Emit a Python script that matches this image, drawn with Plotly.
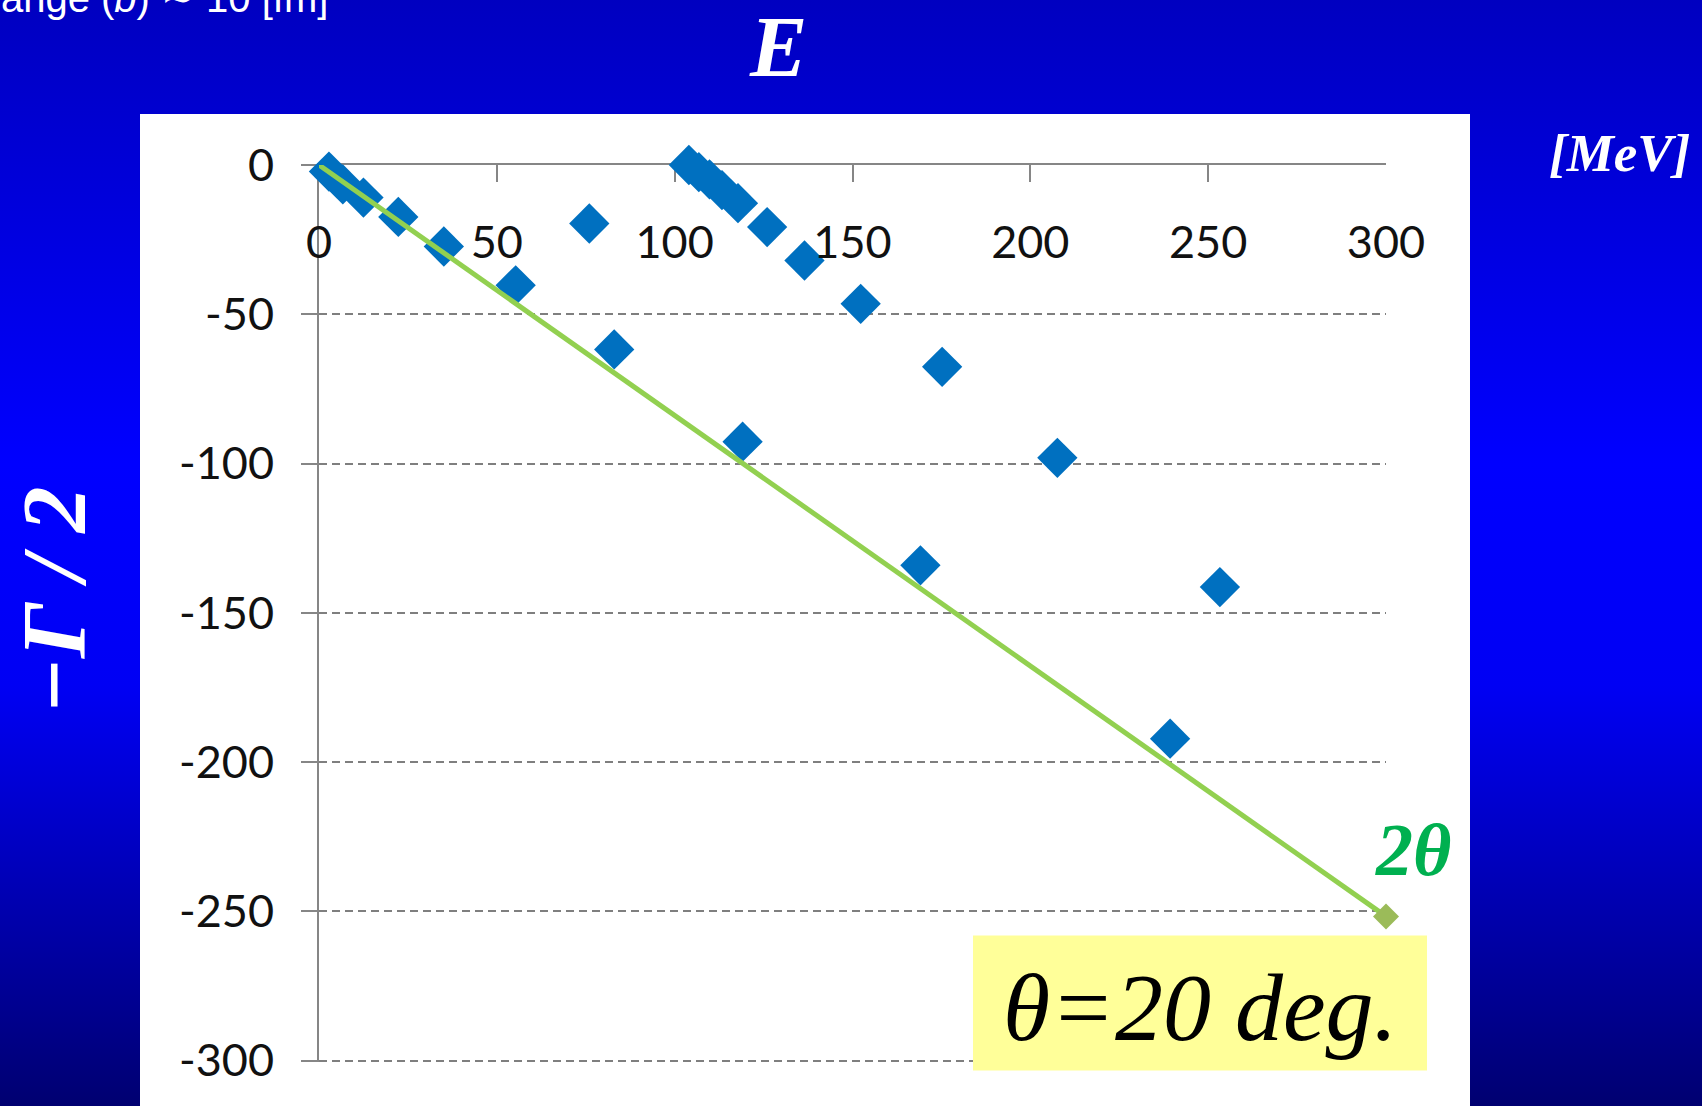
import base64
import math
import plotly.graph_objects as go

# Complex-scaled eigenvalues: E (real part) and -Gamma/2 (imag part), MeV
branch_a_E = [2.8, 6.7, 12.5, 22.3, 35.1, 55.3, 83.0, 119.1, 169.1, 239.3]
branch_a_G = [-2.2, -6.5, -10.9, -17.4, -27.3, -40.3, -61.8, -92.7, -134.1, -192.2]

branch_b_E = [76.0, 104.0, 106.8, 109.8, 113.3, 117.8, 126.0, 136.5, 152.3, 175.2, 207.6, 253.3]
branch_b_G = [-19.6, 0.0, -2.4, -4.8, -8.4, -12.8, -20.8, -32.0, -46.5, -67.6, -98.1, -141.4]

# Rotation angle of the scaling; continuum lies along the 2*theta line
theta_deg = 20
line_E = [0, 300]
line_G = [-e * math.tan(math.radians(2 * theta_deg)) for e in line_E]

x_ticks = [0, 50, 100, 150, 200, 250, 300]
x_labels = ["0", "50", "100", "150", "200", "250", "300"]
y_ticks = [0, -50, -100, -150, -200, -250, -300]
y_labels = ["0", "-50", "-100", "-150", "-200", "-250", "-300"]

# ---- page geometry (pixels) ----
W, H = 1702, 1106
Y_MIN = -300.5          # a hair below -300 so the last dashed gridline is drawn
PL, PR, PT = 319, 1386, 165
PB = 1061 + (0.5 / 300) * (1061 - 165)


def px_x(px):
    return (px - PL) / (PR - PL)


def px_y(py):
    return (PB - py) / (PB - PT)


# slide background: vertical blue gradient
svg = (
    f'<svg xmlns="http://www.w3.org/2000/svg" width="{W}" height="{H}" '
    f'viewBox="0 0 {W} {H}" preserveAspectRatio="none">'
    '<defs><linearGradient id="g" x1="0" y1="0" x2="0" y2="1">'
    '<stop offset="0" stop-color="#0000C0"/>'
    '<stop offset="0.42" stop-color="#0000FF"/>'
    '<stop offset="0.62" stop-color="#0000F4"/>'
    '<stop offset="1" stop-color="#000070"/>'
    '</linearGradient></defs>'
    f'<rect width="{W}" height="{H}" fill="url(#g)"/></svg>'
)
bg_src = "data:image/svg+xml;base64," + base64.b64encode(svg.encode()).decode()

AXIS_GREY = "#868686"
TICK_FONT = dict(family="Lato", size=45, color="#111111")
SERIF = "Liberation Serif"

fig = go.Figure()

diamond = dict(symbol="diamond", size=31, color="#0070C0", line=dict(width=0))
fig.add_trace(go.Scatter(x=branch_a_E, y=branch_a_G, mode="markers",
                         marker=diamond, cliponaxis=False, showlegend=False))
fig.add_trace(go.Scatter(x=branch_b_E, y=branch_b_G, mode="markers",
                         marker=diamond, cliponaxis=False, showlegend=False))
fig.add_trace(go.Scatter(x=line_E, y=line_G, mode="lines",
                         line=dict(color="#92D050", width=5),
                         cliponaxis=False, showlegend=False))
# end point of the 2-theta line, on the label axis (same range as x)
fig.add_trace(go.Scatter(x=line_E[-1:], y=line_G[-1:], mode="markers",
                         xaxis="x2", yaxis="y",
                         marker=dict(symbol="diamond", size=20, color="#9BBB59",
                                     line=dict(width=0)),
                         cliponaxis=False, showlegend=False))


def label(text, cx, cy, size, color="white", weight="bold", style="italic",
          angle=0, family=SERIF):
    return dict(text=text, x=px_x(cx), y=px_y(cy), xref="paper", yref="paper",
                xanchor="center", yanchor="middle", showarrow=False,
                textangle=angle,
                font=dict(family=family, size=size, color=color,
                          weight=weight, style=style))


fig.update_layout(
    width=W, height=H,
    margin=dict(l=PL, r=W - PR, t=PT, b=H - PB, pad=0),
    paper_bgcolor="#000078",
    plot_bgcolor="white",
    images=[dict(source=bg_src, xref="paper", yref="paper",
                 x=px_x(-2), y=px_y(-2), sizex=(W + 4) / (PR - PL),
                 sizey=(H + 4) / (PB - PT),
                 xanchor="left", yanchor="top", sizing="stretch", layer="below")],
    shapes=[
        dict(type="rect", xref="paper", yref="paper",
             x0=px_x(140), x1=px_x(1470), y0=px_y(1110), y1=px_y(114),
             fillcolor="white", line=dict(width=0), layer="below"),
        dict(type="rect", xref="paper", yref="paper",
             x0=px_x(973), x1=px_x(1427), y0=px_y(1071), y1=px_y(936),
             fillcolor="#FFFF99", line=dict(width=0), layer="above"),
    ],
    # axis line along E at -Gamma/2 = 0, ticks pointing down
    xaxis=dict(range=[0, 300], side="top", showline=True, linecolor=AXIS_GREY,
               linewidth=2, ticks="inside", ticklen=17, tickwidth=2,
               tickcolor=AXIS_GREY, tickvals=x_ticks, showticklabels=False,
               showgrid=False, zeroline=False, layer="below traces",
               fixedrange=True),
    # tick labels of E, sitting just under the axis line
    xaxis2=dict(range=[0, 300], overlaying="x", anchor="free",
                position=px_y(212), side="bottom", showline=False, ticks="",
                tickvals=x_ticks, ticktext=x_labels, tickfont=TICK_FONT,
                showgrid=False, zeroline=False, fixedrange=True),
    yaxis=dict(range=[Y_MIN, 0], showline=True, linecolor=AXIS_GREY, linewidth=2,
               ticks="outside", ticklen=16, tickwidth=2, tickcolor=AXIS_GREY,
               tickvals=y_ticks, ticktext=y_labels, tickfont=TICK_FONT,
               ticklabelstandoff=18,
               showgrid=True, gridcolor="#7f7f7f", gridwidth=1.8,
               griddash="8px,5px", zeroline=False, layer="below traces",
               fixedrange=True),
    annotations=[
        label("E", 778, 47, 86),
        label("[MeV]", 1619, 153, 53),
        label("−Γ / 2", 54, 601, 92, angle=-90),
        label("2θ", 1413, 850, 74, color="#00B050"),
        label(f"θ={theta_deg} deg.", 1200, 1008, 96, color="black",
              weight="normal"),
        dict(text="Range (<i>b</i>) ∼ 10 [fm]", x=px_x(-30), y=px_y(22),
             xref="paper", yref="paper", xanchor="left", yanchor="bottom",
             showarrow=False,
             font=dict(family="Liberation Sans", size=40, color="white")),
    ],
)

fig.write_html("out.html")
